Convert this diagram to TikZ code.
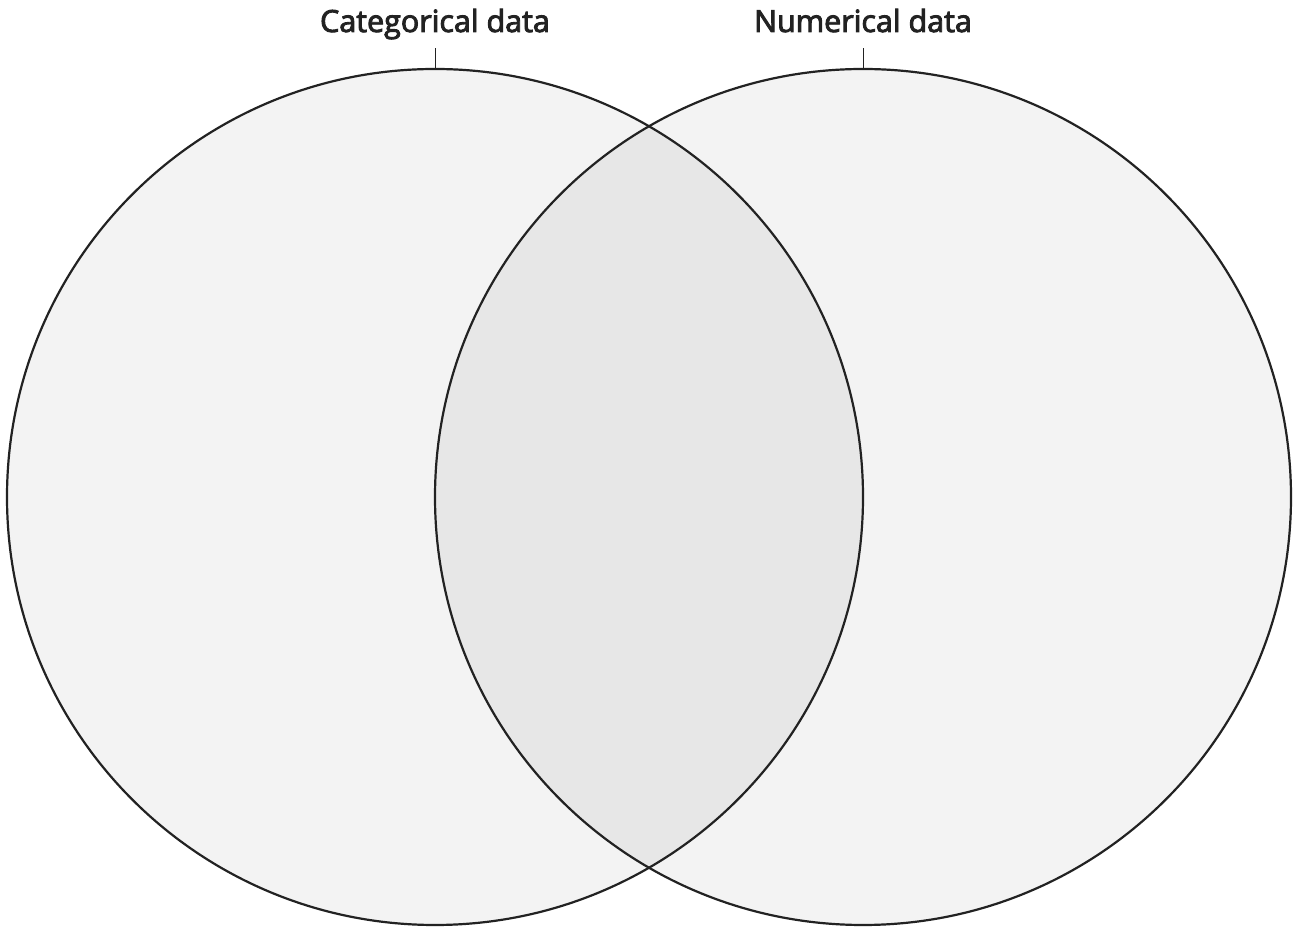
\documentclass[tikz,border=0pt]{standalone}
\usepackage{fontspec}
\setmainfont{Open Sans}[FakeBold=3]
\begin{document}
\begin{tikzpicture}[x=1pt,y=1pt,
  setfill/.style={fill=setgrey},
  overlapfill/.style={fill=overlapgrey},
  setline/.style={draw=inkline, line width=2.2pt},
  label/.style={font=\fontsize{30.5}{36}\selectfont, text=inkline, anchor=base, inner sep=0pt},
  tick/.style={draw=inkline, line width=1pt}]
\definecolor{setgrey}{HTML}{F3F3F3}
\definecolor{overlapgrey}{HTML}{E7E7E7}
\definecolor{inkline}{HTML}{222222}
\useasboundingbox (0,0) rectangle (1294,929);
% the two sets
\fill[setfill] (435,432) circle (428pt);
\fill[setfill] (863,432) circle (428pt);
\begin{scope}
  \clip (435,432) circle (428pt);
  \fill[overlapfill] (863,432) circle (428pt);
\end{scope}
\node[circle, minimum size=856pt, inner sep=0pt, setline] (cat) at (435,432) {};
\node[circle, minimum size=856pt, inner sep=0pt, setline] (num) at (863,432) {};
% set labels with ticks
\node[label] (catlabel) at (435,897) {Categorical data};
\node[label] (numlabel) at (863,897) {Numerical data};
\draw[tick] (cat.north) -- ++(0,20);
\draw[tick] (num.north) -- ++(0,20);
\end{tikzpicture}
\end{document}
